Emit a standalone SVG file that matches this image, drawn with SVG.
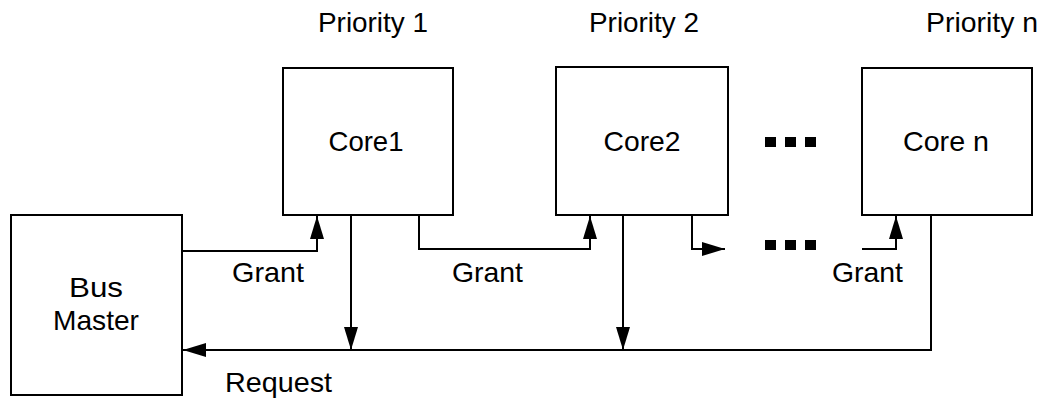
<svg xmlns="http://www.w3.org/2000/svg" width="1044" height="400" viewBox="0 0 1044 400">
<style>
.box{fill:#fff;stroke:#000;stroke-width:2}
.ln{fill:none;stroke:#000;stroke-width:2}
text{font-family:"Liberation Sans",Arial,sans-serif;font-size:28px;fill:#000}
.c{text-anchor:middle}
.dot{fill:#000}
</style>
<defs>
<marker id="ah" viewBox="0 0 23 14" refX="23" refY="7" markerWidth="23" markerHeight="14" markerUnits="userSpaceOnUse" orient="auto">
<path d="M0,0 L23,7 L0,14 Z" fill="#000"/>
</marker>
</defs>
<rect width="1044" height="400" fill="#fff"/>
<text class="c" x="373" y="32" textLength="110" lengthAdjust="spacingAndGlyphs">Priority 1</text>
<text class="c" x="644" y="32" textLength="110" lengthAdjust="spacingAndGlyphs">Priority 2</text>
<text class="c" x="982" y="32" textLength="112" lengthAdjust="spacingAndGlyphs">Priority n</text>
<g id="busmaster">
<rect class="box" x="11" y="215" width="171" height="180"/>
<text class="c" x="96" y="297" textLength="54" lengthAdjust="spacingAndGlyphs">Bus</text>
<text class="c" x="96" y="330" textLength="86" lengthAdjust="spacingAndGlyphs">Master</text>
</g>
<g id="core1">
<rect class="box" x="283" y="68" width="170" height="147"/>
<text class="c" x="366" y="151" textLength="75" lengthAdjust="spacingAndGlyphs">Core1</text>
</g>
<g id="core2">
<rect class="box" x="556" y="67" width="172" height="148"/>
<text class="c" x="642" y="151" textLength="77" lengthAdjust="spacingAndGlyphs">Core2</text>
</g>
<g id="coren">
<rect class="box" x="862" y="68" width="170" height="147"/>
<text class="c" x="946" y="151" textLength="86" lengthAdjust="spacingAndGlyphs">Core n</text>
</g>
<g id="dots">
<rect class="dot" x="765" y="137" width="11" height="10"/>
<rect class="dot" x="785" y="137" width="11" height="10"/>
<rect class="dot" x="805" y="137" width="11" height="10"/>
<rect class="dot" x="765" y="240" width="11" height="10"/>
<rect class="dot" x="785" y="240" width="11" height="10"/>
<rect class="dot" x="805" y="240" width="11" height="10"/>
</g>
<g id="connectors">
<polyline class="ln" points="182,251 317,251 317,216" marker-end="url(#ah)"/>
<polyline class="ln" points="419,215 419,249 590,249 590,216" marker-end="url(#ah)"/>
<polyline class="ln" points="692,215 692,249 725,249" marker-end="url(#ah)"/>
<polyline class="ln" points="862,249 896,249 896,216" marker-end="url(#ah)"/>
<line class="ln" x1="351" y1="215" x2="351" y2="350" marker-end="url(#ah)"/>
<line class="ln" x1="623" y1="215" x2="623" y2="350" marker-end="url(#ah)"/>
<polyline class="ln" points="931,215 931,350 183,350" marker-end="url(#ah)"/>
</g>
<text x="232" y="282" textLength="72" lengthAdjust="spacingAndGlyphs">Grant</text>
<text x="452" y="282" textLength="71" lengthAdjust="spacingAndGlyphs">Grant</text>
<text x="832" y="282" textLength="71" lengthAdjust="spacingAndGlyphs">Grant</text>
<text x="225" y="392" textLength="107" lengthAdjust="spacingAndGlyphs">Request</text>
</svg>
